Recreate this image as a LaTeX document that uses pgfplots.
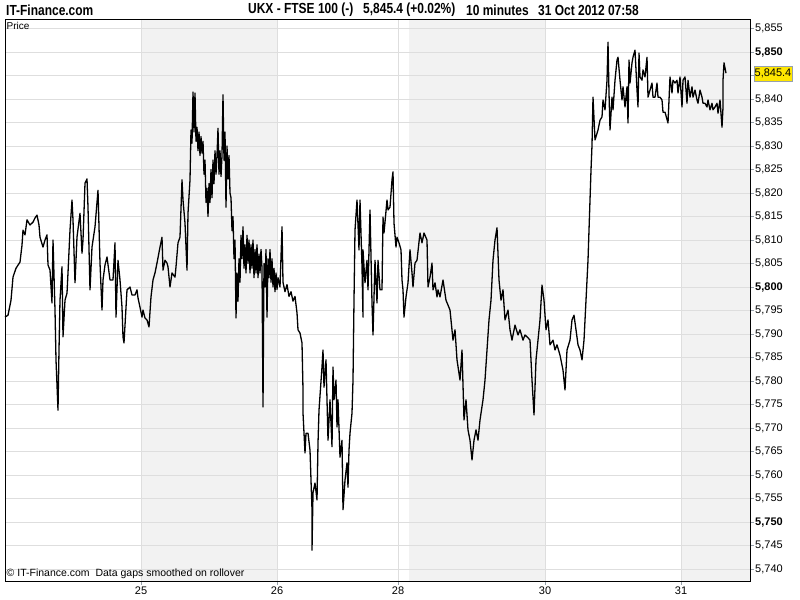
\documentclass[border=0pt]{standalone}
\usepackage{pgfplots}
\pgfplotsset{compat=1.18}
\usepackage{pgfplotstable}
\usepackage{fontspec}
\setmainfont{Liberation Sans}
\newfontfamily\narrowfont[FakeStretch=0.82]{Liberation Sans}
\definecolor{shade}{RGB}{242,242,242}
\definecolor{gridc}{RGB}{222,222,222}
\definecolor{tickc}{RGB}{150,160,170}
\definecolor{boxy}{RGB}{255,230,0}
\definecolor{boxb}{RGB}{150,160,175}

\pgfplotstableread{
x p
5 5793.6
8 5794.0
11 5797.2
13 5802.1
16 5804.0
20 5805.3
22 5808.9
23 5812.1
25 5811.1
27 5814.3
30 5813.2
33 5813.8
35 5814.7
37 5815.3
39 5813.2
40 5810.6
43 5808.5
45 5810.0
47 5811.1
48 5804.7
50 5803.6
52 5796.6
53 5810.0
55 5795.1
56 5784.5
58 5773.8
59 5786.6
60 5797.2
62 5804.3
63 5789.4
65 5797.2
67 5798.7
68 5803.0
70 5812.1
72 5818.5
73 5814.3
75 5800.9
77 5810.6
80 5815.7
82 5807.2
83 5810.0
85 5822.1
87 5823.0
88 5817.0
90 5799.4
92 5808.5
95 5812.8
98 5820.6
100 5805.1
102 5795.1
103 5801.5
105 5804.7
107 5806.4
110 5801.5
113 5801.5
115 5809.4
116 5793.6
118 5805.7
120 5801.5
122 5795.7
123 5789.4
124 5788.1
127 5799.4
130 5800.0
132 5798.3
135 5798.3
137 5799.4
138 5797.7
140 5795.7
142 5793.6
143 5795.1
145 5793.4
147 5793.0
149 5791.5
151 5797.9
153 5801.5
155 5803.0
157 5805.1
160 5808.5
162 5810.6
163 5803.6
165 5805.7
167 5805.1
168 5804.3
170 5800.0
172 5803.0
175 5802.1
176 5804.3
178 5809.4
180 5810.6
182 5822.8
183 5818.5
185 5813.6
187 5803.6
188 5815.7
190 5822.8
191 5833.4
192 5830.6
193 5841.5
194 5833.0
195 5841.3
196 5831.0
197 5834.0
198 5829.0
199 5833.0
200 5828.0
201 5832.0
202 5828.5
203 5831.0
204 5824.0
205 5827.0
206 5818.0
207 5821.0
208 5815.0
209 5822.0
210 5818.0
211 5825.0
212 5819.0
213 5827.0
214 5822.0
215 5829.0
216 5824.0
217 5828.0
218 5833.8
219 5824.0
220 5829.0
221 5823.5
222 5828.0
223 5840.9
224 5827.0
225 5833.0
226 5817.0
227 5830.0
228 5823.0
229 5828.0
230 5820.0
231 5819.0
232 5812.0
233 5815.0
234 5806.0
235 5810.0
236 5793.4
237 5803.0
238 5797.0
239 5806.0
240 5801.0
241 5811.0
242 5806.0
243 5812.8
244 5804.0
245 5809.0
246 5803.0
247 5811.0
248 5805.0
249 5810.0
250 5803.0
251 5809.0
252 5804.0
253 5810.0
254 5802.0
255 5808.0
256 5803.0
257 5809.0
258 5802.0
259 5807.0
260 5803.0
261 5808.0
262 5804.0
263 5774.5
264 5805.0
265 5800.0
266 5808.0
267 5793.6
268 5806.0
269 5802.0
270 5808.0
271 5801.0
272 5806.0
273 5800.0
274 5804.0
275 5799.0
276 5803.0
277 5799.5
278 5802.0
280 5800.0
282 5812.8
283 5801.0
285 5799.0
287 5800.5
289 5798.0
291 5799.0
293 5797.0
295 5798.0
297 5794.5
298 5790.9
300 5790.2
302 5788.1
303 5778.1
303 5773.2
305 5764.7
306 5768.9
308 5768.9
310 5765.3
312 5752.6
312 5744.0
313 5756.2
315 5758.3
317 5754.7
318 5766.8
319 5773.8
322 5783.0
323 5786.6
324 5778.7
326 5784.5
327 5776.0
328 5767.4
330 5776.0
332 5766.0
333 5783.0
334 5776.0
336 5780.2
337 5770.2
338 5776.0
340 5763.8
342 5767.4
343 5752.6
345 5758.9
347 5762.6
348 5757.4
349 5765.3
350 5768.9
352 5773.2
353 5780.2
354 5797.2
355 5812.1
357 5818.5
359 5807.9
360 5818.5
362 5804.3
363 5793.6
363 5807.9
365 5800.9
367 5805.7
368 5799.4
370 5816.4
372 5796.6
373 5789.8
375 5805.7
377 5796.6
378 5805.7
380 5799.4
382 5799.4
383 5814.9
384 5811.5
387 5818.5
388 5816.4
390 5817.0
392 5822.8
393 5824.5
394 5813.6
396 5808.5
397 5810.6
399 5809.4
401 5807.9
402 5801.5
403 5799.4
404 5793.6
406 5797.9
408 5800.9
410 5807.9
412 5803.0
413 5800.0
415 5805.1
417 5805.7
420 5811.5
422 5809.4
424 5811.5
427 5810.0
428 5800.0
430 5802.1
432 5805.1
433 5799.4
435 5800.9
437 5797.9
438 5799.4
440 5797.9
443 5801.5
446 5797.2
450 5795.1
453 5788.7
455 5790.9
457 5784.5
460 5780.2
462 5786.6
464 5771.7
466 5776.0
468 5769.6
470 5767.4
472 5763.2
474 5767.4
476 5769.6
478 5767.4
480 5771.7
483 5776.0
485 5780.2
487 5786.6
489 5793.0
491 5797.2
493 5805.7
495 5810.0
497 5812.6
499 5801.5
501 5797.2
503 5799.4
505 5793.0
508 5795.1
510 5790.9
512 5788.7
515 5791.9
518 5789.8
520 5790.9
523 5788.7
525 5789.8
528 5789.2
530 5788.7
532 5780.2
534 5772.8
536 5784.5
538 5788.7
540 5793.0
542 5800.4
544 5797.2
546 5790.9
548 5793.0
550 5787.7
553 5788.7
555 5786.6
557 5787.7
560 5785.5
563 5782.3
565 5778.1
567 5786.6
570 5788.7
572 5793.0
574 5794.0
576 5790.9
578 5787.7
580 5786.6
582 5784.5
584 5788.7
586 5797.2
588 5805.7
590 5818.5
591 5824.9
592 5830.2
593 5840.4
595 5831.3
598 5833.4
600 5835.5
602 5836.2
603 5839.8
605 5837.7
607 5844.0
608 5852.1
609 5841.3
610 5833.4
612 5840.4
613 5837.7
615 5844.0
617 5848.3
618 5848.9
620 5844.0
622 5839.8
623 5842.6
625 5838.3
627 5842.6
628 5834.9
629 5848.3
630 5843.4
632 5847.7
633 5848.9
635 5850.4
637 5841.9
638 5838.3
639 5849.8
640 5844.7
642 5844.0
643 5846.2
645 5844.7
647 5848.9
648 5840.4
650 5841.9
652 5843.4
653 5840.4
655 5840.4
657 5843.4
658 5840.4
660 5840.4
662 5839.8
663 5837.2
665 5837.2
668 5834.9
670 5844.7
672 5841.3
673 5844.0
675 5843.4
677 5844.0
678 5841.3
680 5844.7
682 5838.3
683 5844.0
685 5844.7
687 5839.1
688 5844.0
690 5840.4
692 5842.6
693 5840.4
695 5841.9
697 5839.8
698 5839.1
700 5841.9
702 5840.4
703 5839.1
705 5839.1
707 5838.3
708 5839.8
710 5837.7
712 5839.1
713 5837.7
715 5838.3
717 5839.1
718 5837.0
720 5839.8
722 5834.0
723 5838.3
723 5844.0
724 5847.7
726 5845.5
}\ftse

\begin{document}
\begin{tikzpicture}
\begin{axis}[
  set layers,
  at={(5bp,19bp)}, anchor=south west,
  scale only axis, width=745bp, height=562bp,
  xmin=5, xmax=750, ymin=5737.45, ymax=5857.03,
  axis line style={black, line width=0.9bp},
  xtick={141,277,398,545,681}, xticklabels={25,26,28,30,31},
  ytick={5740,5745,5750,5755,5760,5765,5770,5775,5780,5785,5790,5795,5800,5805,5810,5815,5820,5825,5830,5835,5840,5845,5850,5855},
  yticklabels={{5,740},{5,745},{\textbf{5,750}},{5,755},{5,760},{5,765},{5,770},{5,775},{5,780},{5,785},{5,790},{5,795},{\textbf{5,800}},{5,805},{5,810},{5,815},{5,820},{5,825},{5,830},{5,835},{5,840},{},{\textbf{5,850}},{5,855}},
  xtick pos=bottom, ytick pos=right, yticklabel pos=right,
  tick align=outside,
  major tick length=4bp,
  every tick/.style={tickc, line width=0.7bp},
  xmajorgrids, ymajorgrids,
  grid style={gridc, line width=0.8bp},
  ticklabel style={font=\fontsize{11bp}{13bp}\selectfont},
  yticklabel style={anchor=west, inner sep=1bp},
  xticklabel style={inner sep=2bp},
  clip=false,
]
\addplot[fill=shade, draw=none, on layer=axis background] coordinates {(141,5737.45) (141,5857.03) (277,5857.03) (277,5737.45) (141,5737.45)};
\addplot[fill=shade, draw=none, on layer=axis background] coordinates {(409,5737.45) (409,5857.03) (545,5857.03) (545,5737.45) (409,5737.45)};
\addplot[fill=shade, draw=none, on layer=axis background] coordinates {(681,5737.45) (681,5857.03) (750,5857.03) (750,5737.45) (681,5737.45)};
\addplot[black, line width=1.3bp, line join=round, mark=none] table[x=x, y=p] {\ftse};
\node[anchor=north west, inner sep=0pt, font=\fontsize{10bp}{12bp}\selectfont] at (rel axis cs:0,1) [xshift=1.5bp, yshift=-3bp] {Price};
\node[anchor=south west, inner sep=0pt, font=\fontsize{10.5bp}{12bp}\selectfont] at (rel axis cs:0,0) [xshift=1.5bp, yshift=2bp] {\textcopyright\ IT-Finance.com\ \ Data gaps smoothed on rollover};
\node[fill=boxy, draw=boxb, line width=0.8bp, minimum width=38bp, minimum height=15bp, inner sep=0pt, font=\fontsize{11bp}{13bp}\selectfont] at (axis cs:750,5845.4) [xshift=23bp] {5,845.4};
\end{axis}
\node[anchor=west, inner sep=0pt, font=\narrowfont\bfseries\fontsize{14.6bp}{16bp}\selectfont] at (6bp,590bp) {IT-Finance.com};
\node[anchor=west, inner sep=0pt, font=\narrowfont\bfseries\fontsize{14.6bp}{16bp}\selectfont] at (248bp,590bp) {UKX - FTSE 100 (-)};
\node[anchor=west, inner sep=0pt, font=\narrowfont\bfseries\fontsize{14.6bp}{16bp}\selectfont] at (363bp,590bp) {5,845.4 (+0.02\%)};
\node[anchor=west, inner sep=0pt, font=\narrowfont\bfseries\fontsize{14.6bp}{16bp}\selectfont] at (466bp,590bp) {10 minutes};
\node[anchor=west, inner sep=0pt, font=\narrowfont\bfseries\fontsize{14.6bp}{16bp}\selectfont] at (538bp,590bp) {31 Oct 2012 07:58};
\pgfresetboundingbox
\path[use as bounding box] (0bp,0bp) rectangle (800bp,600bp);
\end{tikzpicture}
\end{document}
